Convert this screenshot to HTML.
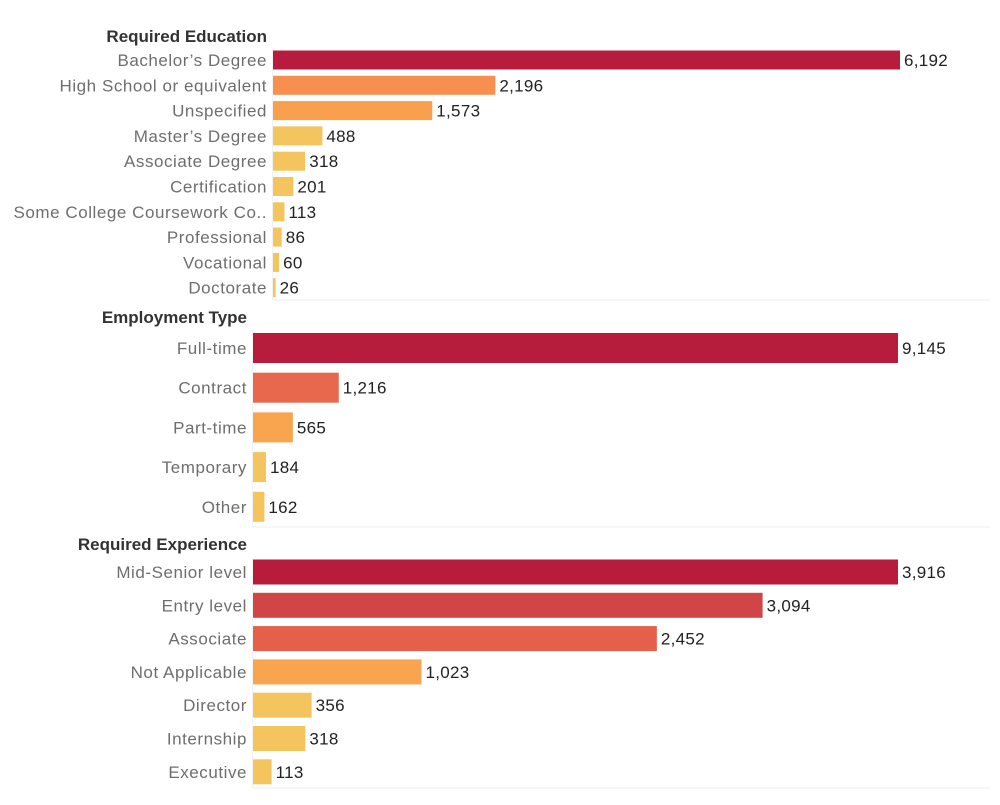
<!DOCTYPE html>
<html><head><meta charset="utf-8"><style>
body{margin:0;background:#fff;width:1000px;height:800px;overflow:hidden;font-family:"Liberation Sans",sans-serif}
svg text{font-family:"Liberation Sans",sans-serif}
</style></head><body>
<svg id="c" width="1000" height="800"></svg>
<script>
const eduCats=["Bachelor\u2019s Degree","High School or equivalent","Unspecified","Master\u2019s Degree","Associate Degree","Certification","Some College Coursework Co..","Professional","Vocational","Doctorate"];
const eduVals=[6192,2196,1573,488,318,201,113,86,60,26];
const empCats=["Full-time","Contract","Part-time","Temporary","Other"];
const empVals=[9145,1216,565,184,162];
const expCats=["Mid-Senior level","Entry level","Associate","Not Applicable","Director","Internship","Executive"];
const expVals=[3916,3094,2452,1023,356,318,113];
const svg=document.getElementById('c');
const NS='http://www.w3.org/2000/svg';
function mk(t,a){const e=document.createElementNS(NS,t);for(const k in a)e.setAttribute(k,a[k]);svg.appendChild(e);return e;}
function color(v,max){const r=v/max;
 if(r>0.95)return"#b71c3d";if(r>0.7)return"#d04545";if(r>0.5)return"#e4604b";if(r>0.12)return r>0.3?"#f78f4f":(r>0.2?"#f9a44f":"#e8684e");return"#f4c55f";}
function section(key,title,cats,vals,x0,x1,titleY,firstY,step,bh,divY){
 const max=Math.max(...vals);
 const sx=v=>x0+(x1-x0)*v/max;
 const t=mk('text',{x:x0-6,y:titleY,'text-anchor':'end','font-size':17,'font-weight':'bold',fill:'#333'});
 t.textContent=title;
 
 
 cats.forEach((c,i)=>{
  const cy=firstY+i*step;
  const l=mk('text',{x:x0-6,y:cy+6,'text-anchor':'end','font-size':17,fill:'#6e6e6e','letter-spacing':0.55});
  l.textContent=c;
  
  
  const w=Math.max(2,sx(vals[i])-x0);
  let col=color(vals[i],max);
  if(key==='employment'&&i===1)col="#e8684e";
  if(key==='employment'&&i===2)col="#f9a44f";
  if(key==='education'&&i===1)col="#f78f4f";
  if(key==='education'&&i===2)col="#f9a04e";
  const r=mk('rect',{x:x0,y:cy-bh/2,width:w,height:bh,fill:col});
  
  
  const v=mk('text',{x:x0+w+4,y:cy+6,'font-size':17,fill:'#222','letter-spacing':0.3});
  v.textContent=vals[i].toLocaleString('en-US');
  
  
 });
 const d=mk('line',{x1:x0,x2:990,y1:divY,y2:divY,stroke:'#eee','stroke-width':1});
 
 
 const a=mk('line',{x1:x0-0.5,x2:x0-0.5,y1:titleY+8,y2:divY,stroke:'#f2f2f2','stroke-width':1});
 
 
}
section('education','Required Education',eduCats,eduVals,273,900,42,60,25.3,19,300);
section('employment','Employment Type',empCats,empVals,253,898,323,348,39.7,30,527);
section('experience','Required Experience',expCats,expVals,253,898,550,572,33.3,25,788);
</script>
</body></html>
